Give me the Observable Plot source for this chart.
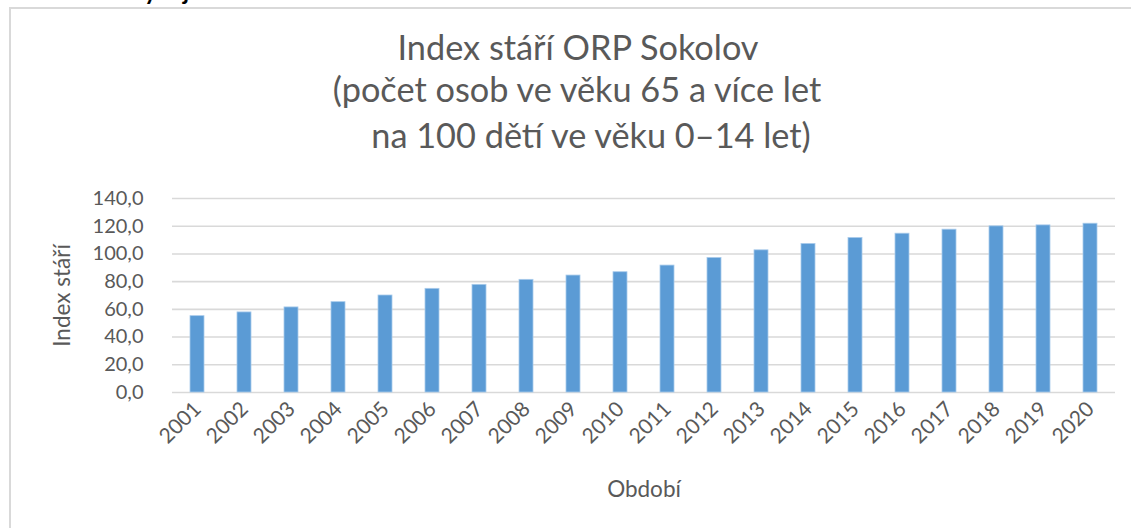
<!DOCTYPE html>
<html>
<head>
<meta charset="utf-8">
<script src="https://cdn.jsdelivr.net/npm/d3@7"></script>
<script src="https://cdn.jsdelivr.net/npm/@observablehq/plot@0.6"></script>
<style>
  html, body { margin: 0; padding: 0; background: #fff; }
  body { width: 1131px; height: 528px; overflow: hidden; position: relative; font-family: Lato, "Noto Sans", sans-serif; color: #595959; }
  #cut { position: absolute; left: 14px; top: -21px; font: bold 24px Lato, sans-serif; color: #000; white-space: nowrap; line-height: 1; }
  #frame { position: absolute; left: 9px; top: 7px; width: 1140px; height: 540px; border: 2px solid #d9d9d9; box-sizing: border-box; z-index: 2; pointer-events: none; }
  #header { position: relative; height: 180px; }
  .tl { position: absolute; transform: translateX(-50%); white-space: nowrap; font-size: 34.3px; line-height: 1; color: #595959; }
  #chart { position: relative; }
</style>
</head>
<body>
<div id="cut">Graf č. 12: Vývoj indexu stáří ORP Sokolov v období 2001–2020</div>
<div id="frame"></div>
<div id="header">
  <div class="tl" style="left:578px; top:30px;">Index stáří ORP Sokolov</div>
  <div class="tl" style="left:577px; top:72px;">(počet osob ve věku 65 a více let</div>
  <div class="tl" style="left:591px; top:118px;">na 100 dětí ve věku 0–14 let)</div>
</div>
<div id="chart"></div>
<script>
const years = ["2001","2002","2003","2004","2005","2006","2007","2008","2009","2010",
               "2011","2012","2013","2014","2015","2016","2017","2018","2019","2020"];
const values = [55.1, 57.8, 61.4, 65.2, 70.0, 74.8, 77.7, 81.3, 84.4, 86.8,
                91.6, 97.1, 102.6, 107.2, 111.5, 114.6, 117.5, 119.9, 120.6, 121.8];
const yTicks = [0, 20, 40, 60, 80, 100, 120, 140];
const yLabel = "Index stáří";
const xLabel = "Období";

const data = years.map((y, i) => ({year: y, value: values[i]}));

const chart = Plot.plot({
  width: 1131,
  height: 348,
  marginLeft: 172,
  marginRight: 16,
  marginTop: 18,
  marginBottom: 136,
  style: { fontFamily: "Lato, sans-serif", color: "#595959", background: "transparent" },
  x: { type: "band", domain: years, paddingInner: 0.70, paddingOuter: 0.35, label: null },
  y: { domain: [0, 140], label: null },
  marks: [
    Plot.ruleY(yTicks, { stroke: "#d9d9d9", strokeWidth: 1.6 }),
    Plot.barY(data, { x: "year", y: "value", fill: "#5b9bd5", stroke: "#a9cbeb", strokeWidth: 0.8 }),
    Plot.axisY({ ticks: yTicks, tickSize: 0, tickPadding: 29, fontSize: 20, label: null,
                 tickFormat: d => d.toFixed(1).replace(".", ",") }),
    Plot.axisX({ tickSize: 0, tickPadding: 13, tickRotate: -45, fontSize: 21, label: null }),
    Plot.text([yLabel], { frameAnchor: "left", textAnchor: "middle", lineAnchor: "middle", dx: -110, rotate: -90, fontSize: 22.5, fill: "#595959" }),
    Plot.text([xLabel], { frameAnchor: "bottom", textAnchor: "middle", lineAnchor: "middle", dy: 97, fontSize: 22.5, fill: "#595959" })
  ]
});
document.getElementById("chart").appendChild(chart);
</script>
</body>
</html>
